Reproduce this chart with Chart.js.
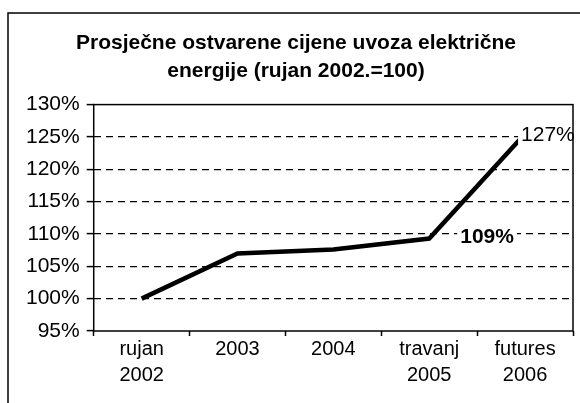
<!DOCTYPE html>
<html>
<head>
<meta charset="utf-8">
<script src="https://cdn.jsdelivr.net/npm/chart.js@4.4.1/dist/chart.umd.min.js"></script>
<style>
  html, body { margin: 0; padding: 0; background: #fff; }
  #wrap { width: 580px; height: 403px; position: relative; }
</style>
</head>
<body>
<div id="wrap"><canvas id="c" width="580" height="403"></canvas></div>
<script>
// ---- data ----
const categories = [["rujan", "2002"], ["2003"], ["2004"], ["travanj", "2005"], ["futures", "2006"]];
const values = [100, 107, 107.6, 109.3, 125.5];
const pointLabels = ["", "", "", "109%", "127%"];
const yTicks = { min: 95, max: 130, step: 5 };
const titleLines = ["Prosječne ostvarene cijene uvoza električne", "energije (rujan 2002.=100)"];

const FONT = "'Liberation Sans', Arial, sans-serif";

const framePlugin = {
  id: 'frame',
  afterDraw(chart) {
    const ctx = chart.ctx;
    const a = chart.chartArea;
    ctx.save();
    ctx.setLineDash([]);
    ctx.strokeStyle = '#000';
    ctx.lineWidth = 1.5;
    ctx.beginPath();
    ctx.moveTo(8, 403);
    ctx.lineTo(8, 13);
    ctx.lineTo(580, 13);
    ctx.stroke();
    const meta = chart.getDatasetMeta(0);
    ctx.textBaseline = 'middle';
    ctx.textAlign = 'left';
    meta.data.forEach((pt, i) => {
      const txt = pointLabels[i];
      if (!txt) return;
      let x, y;
      if (i === 3) {
        ctx.font = "bold 21px " + FONT;
        x = pt.x + 31; y = pt.y - 1;
      } else {
        ctx.font = "21px " + FONT;
        x = pt.x - 4; y = pt.y + 1;
      }
      const w = ctx.measureText(txt).width;
      ctx.fillStyle = '#fff';
      ctx.fillRect(x - 3, y - 10, w + 6, 20);
      ctx.fillStyle = '#000';
      ctx.fillText(txt, x, y);
    });
    ctx.strokeStyle = '#000';
    ctx.lineWidth = 1.5;
    ctx.strokeRect(a.left, a.top, a.right - a.left, a.bottom - a.top);
    ctx.restore();
  }
};

new Chart(document.getElementById('c'), {
  type: 'line',
  data: {
    labels: categories,
    datasets: [{
      data: values,
      borderColor: '#000',
      borderWidth: 4.5,
      pointRadius: 0,
      tension: 0,
      fill: false
    }]
  },
  options: {
    responsive: false,
    animation: false,
    devicePixelRatio: 1,
    layout: { padding: { left: 19, right: 7, top: 30, bottom: 15 } },
    plugins: {
      legend: { display: false },
      tooltip: { enabled: false },
      title: {
        display: true,
        text: titleLines,
        color: '#000',
        font: { family: FONT, size: 21, weight: 'bold', lineHeight: 1.3 },
        padding: { top: 0, bottom: 20 }
      }
    },
    scales: {
      x: {
        type: 'category',
        offset: true,
        grid: {
          offset: true,
          drawOnChartArea: false,
          drawTicks: true,
          tickLength: 5,
          tickColor: '#000',
          tickWidth: 1.5
        },
        border: { display: false },
        ticks: {
          color: '#000',
          font: { family: FONT, size: 20, lineHeight: 1.3 },
          maxRotation: 0,
          autoSkip: false,
          padding: 0
        }
      },
      y: {
        min: yTicks.min,
        max: yTicks.max,
        grid: {
          color: (ctx) => (ctx.tick && (ctx.tick.value === yTicks.min || ctx.tick.value === yTicks.max)) ? 'rgba(0,0,0,0)' : '#000',
          lineWidth: 1.2,
          drawTicks: true,
          tickLength: 7,
          tickColor: '#000',
          tickWidth: 1.5
        },
        border: { display: false, dash: [7, 5] },
        ticks: {
          stepSize: yTicks.step,
          color: '#000',
          font: { family: FONT, size: 21 },
          padding: 7,
          callback: (v) => v + '%'
        }
      }
    }
  },
  plugins: [framePlugin]
});
</script>
</body>
</html>
